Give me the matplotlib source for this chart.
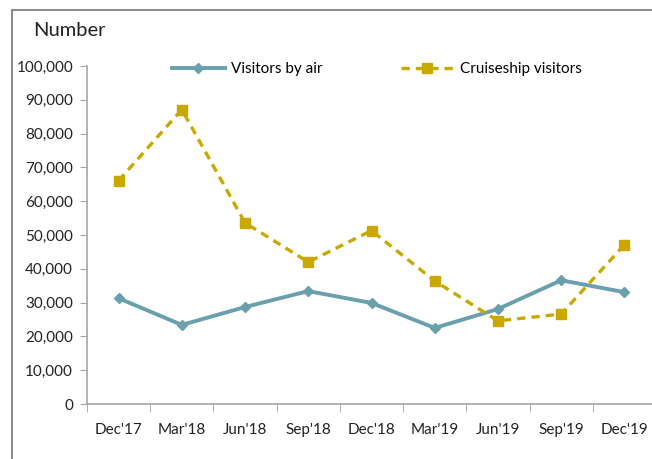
import matplotlib
matplotlib.use('Agg')
import matplotlib.pyplot as plt
from matplotlib.patches import Rectangle
from matplotlib.ticker import FuncFormatter, FixedLocator

quarters = ["Dec'17", "Mar'18", "Jun'18", "Sep'18", "Dec'18",
            "Mar'19", "Jun'19", "Sep'19", "Dec'19"]
visitors_air = [31300, 23400, 28700, 33400, 29900, 22500, 28100, 36600, 33100]
cruise_visitors = [66100, 87100, 53600, 42000, 51300, 36400, 24600, 26600, 47100]

plt.rcParams['font.family'] = ['Lato', 'DejaVu Sans']

fig = plt.figure(figsize=(6.52, 4.59), dpi=100)
ax = fig.add_axes([87 / 652, 1 - 404 / 459, 569 / 652, 338 / 459])

# outer chart frame
fig.patches.append(Rectangle((12 / 652, -0.05), 1.0, 1 - 10 / 459 + 0.05,
                             transform=fig.transFigure, fill=False,
                             edgecolor='#8c8c8c', linewidth=1.5))

x = list(range(len(quarters)))
ax.plot(x, visitors_air, color='#6a9fae', linewidth=2.8, marker='D',
        markersize=5, label='Visitors by air')
ax.plot(x, cruise_visitors, color='#c9a800', linewidth=2.4, linestyle=(0, (2.5, 1.8)),
        marker='s', markersize=6.5, label='Cruiseship visitors')

ax.set_xlim(-0.5, 8.5)
ax.set_ylim(0, 100000)
ax.set_yticks(range(0, 100001, 10000))
ax.yaxis.set_major_formatter(FuncFormatter(lambda v, p: '{:,.0f}'.format(v)))
ax.set_xticks(x)
ax.set_xticklabels(quarters)
ax.xaxis.set_minor_locator(FixedLocator([i - 0.5 for i in range(len(quarters) + 1)]))
ax.tick_params(axis='x', which='major', length=0, pad=14, labelsize=11, labelcolor='#222222')
ax.tick_params(axis='x', which='minor', length=6, color='#a6a6a6', direction='out')
ax.tick_params(axis='y', length=5, color='#a6a6a6', labelsize=11, labelcolor='#222222', pad=5)

for s in ['top', 'right']:
    ax.spines[s].set_visible(False)
for s in ['left', 'bottom']:
    ax.spines[s].set_color('#a6a6a6')
    ax.spines[s].set_linewidth(1.2)

fig.text(33 / 652, 1 - 30 / 459, 'Number', fontsize=14.5, va='center', color='#222222')

ax.legend(loc='center left', bbox_to_anchor=(71 / 569, 1 - 3 / 338), ncol=2, frameon=False,
          fontsize=11, handlelength=3.5, columnspacing=5.1, handletextpad=0.4)

fig.savefig('out.png', dpi=100)
